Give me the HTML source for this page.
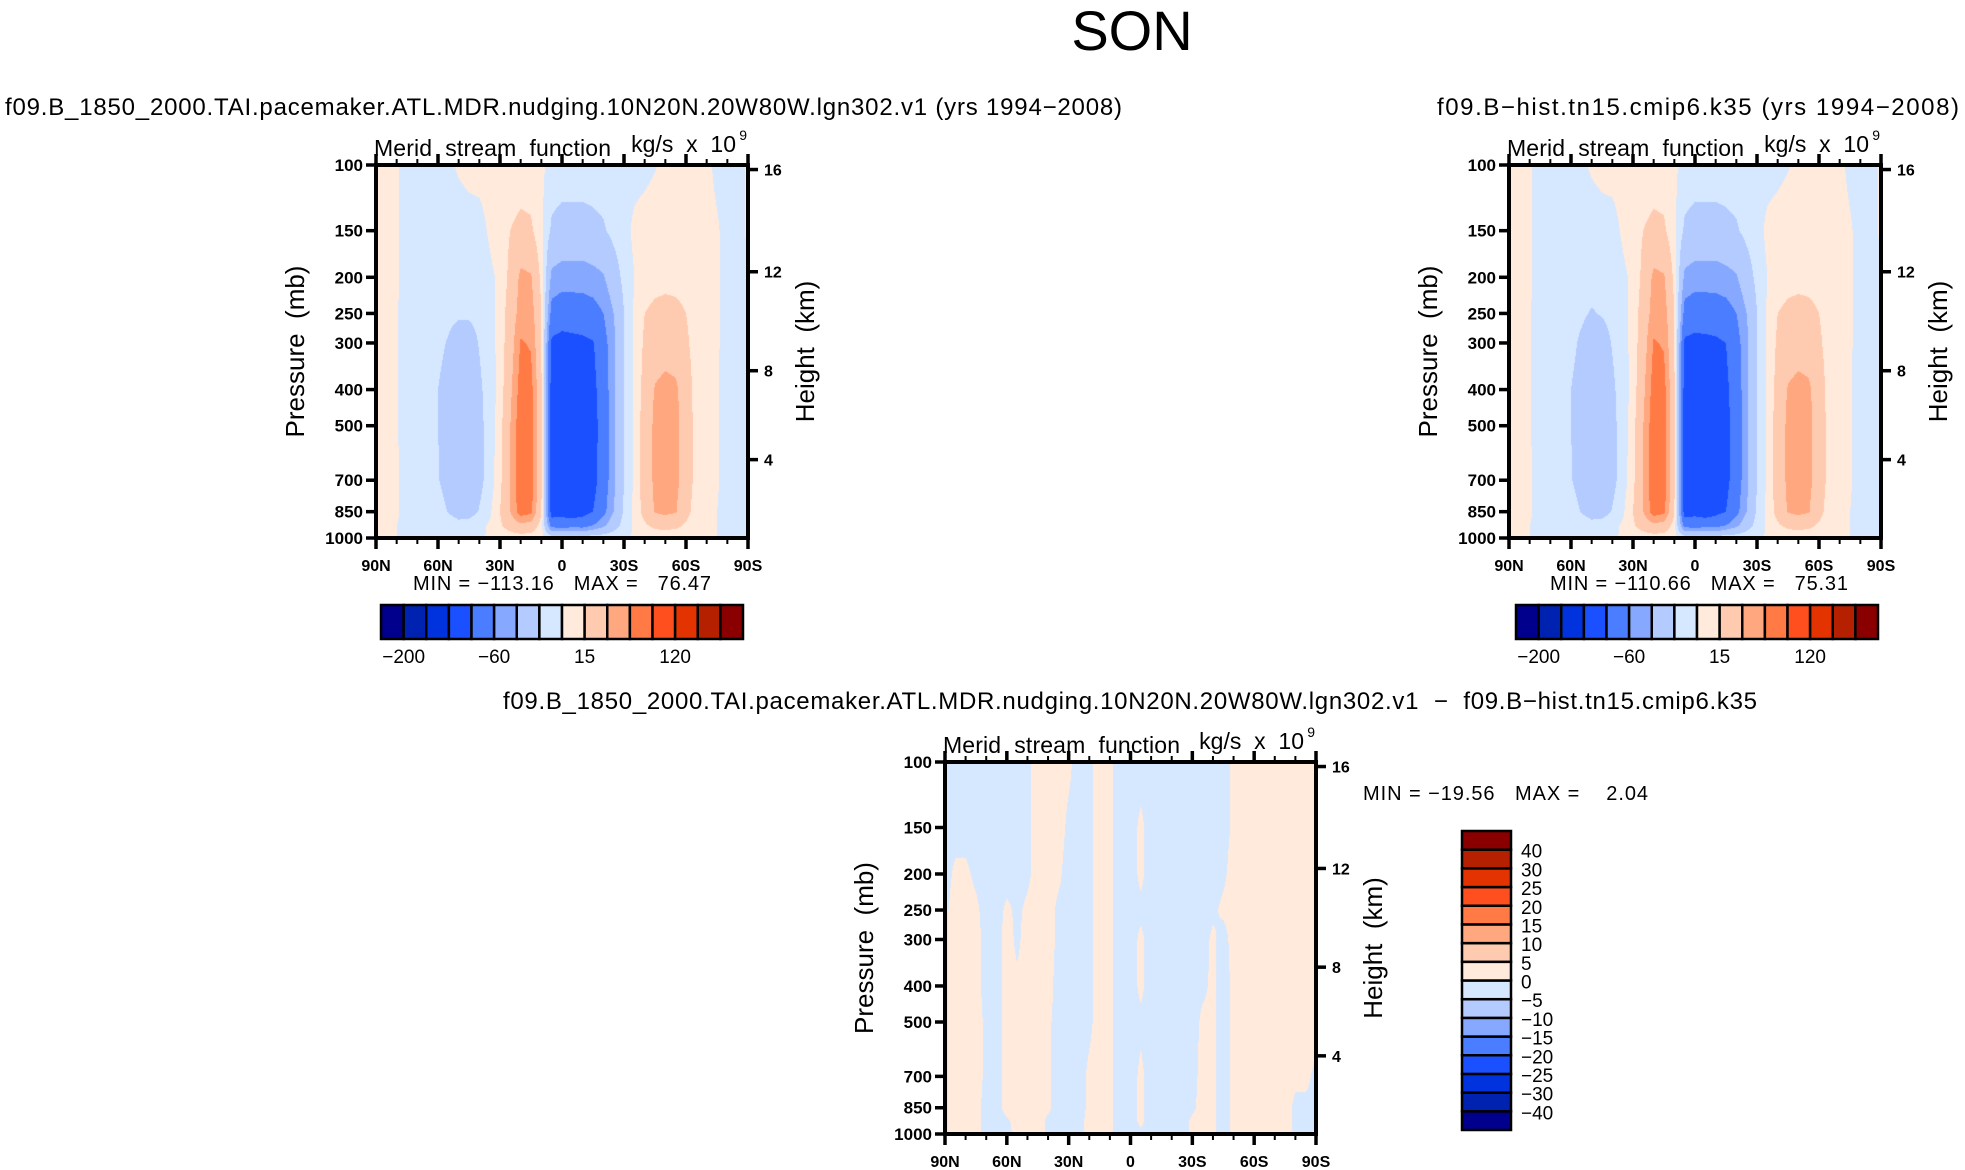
<!DOCTYPE html>
<html><head><meta charset="utf-8"><style>
html,body{margin:0;padding:0;background:#fff;}
#wrap{position:relative;width:1965px;height:1170px;overflow:hidden;background:#fff;font-family:"Liberation Sans",sans-serif;}
canvas{position:absolute;}
#ov{position:absolute;left:0;top:0;}
text{white-space:pre;}
</style></head><body>
<div id="wrap">
<canvas id="c1"></canvas>
<canvas id="c2"></canvas>
<canvas id="c3"></canvas>
<svg id="ov" width="1965" height="1170" xmlns="http://www.w3.org/2000/svg" xml:space="preserve"></svg>
</div>
<script>
// ---------- DATA ----------
const lats = [90,85,80,75,70,65,60,55,50,45,40,35,30,25,20,15,10,5,0,-5,-10,-15,-20,-25,-30,-35,-40,-45,-50,-55,-60,-65,-70,-75,-80,-85,-90];
const plevs = [100,150,200,250,300,400,500,700,850,925,1000];
const levels12 = [-200,-160,-120,-90,-60,-40,-15,0,15,40,60,90,120,160,200];
const levels3 = [-40,-30,-25,-20,-15,-10,-5,0,5,10,15,20,25,30,40];
const cbLabels12 = ["\u2212200","\u221260","15","120"];
const cbLabels3 = ["\u221240","\u221230","\u221225","\u221220","\u221215","\u221210","\u22125","0","5","10","15","20","25","30","40"];
// experiment field, rows = plevs, cols = lats
const field1 = [
[2,2,1,-3,-5,-5,-5,-3,2,5,5,5,5,5,5,5,3,-5,-6,-6,-6,-6,-6,-6,-5,-5,-4,-1,3,4,4,3,2,-2,-3,-2,1],
[2,2,1,-4,-6,-7,-8,-8,-8,-7,-5,2,8,15,20,18,3,-18,-22,-22,-22,-20,-17,-10,-5,3,6,8,8,7,5,4,3,1,-3,-3,1],
[2,2,1,-4,-7,-8,-9,-10,-10,-10,-8,-3,3,20,45,42,10,-45,-50,-50,-50,-47,-42,-25,-10,0,5,8,9,9,8,6,3,1,-3,-4,1],
[2,2,1,-5,-8,-10,-11,-12,-13,-13,-11,-6,5,25,50,50,15,-70,-75,-74,-73,-70,-60,-40,-15,2,15,20,22,20,15,8,3,1,-3,-4,1],
[2,2,1,-5,-8,-10,-12,-16,-22,-22,-14,-6,5,28,62,58,15,-95,-100,-98,-96,-92,-70,-45,-15,2,18,25,28,25,18,8,3,1,-3,-4,1],
[2,2,1,-5,-9,-12,-15,-20,-28,-28,-18,-8,5,35,70,68,18,-105,-110,-110,-105,-98,-75,-45,-15,2,22,42,48,45,25,8,3,1,-4,-5,1],
[2,2,1,-5,-9,-12,-15,-22,-30,-30,-20,-8,8,40,75,72,18,-108,-112,-112,-108,-100,-78,-45,-15,2,25,45,50,46,28,8,3,1,-4,-5,1],
[2,2,1,-4,-8,-11,-14,-22,-30,-30,-20,-8,10,42,76,72,20,-110,-113,-112,-108,-100,-75,-45,-15,3,25,45,50,46,28,8,3,1,-4,-5,1],
[1,1,1,-3,-5,-6,-8,-16,-22,-22,-14,-3,15,40,72,65,15,-105,-100,-108,-100,-90,-68,-40,-12,3,22,42,46,42,22,6,2,0,-3,-4,0],
[1,1,0,-2,-3,-3,-4,-6,-10,-8,-4,2,12,25,35,30,8,-70,-75,-70,-72,-60,-45,-25,-8,2,12,20,22,20,12,3,1,0,-2,-2,0],
[0,0,0,0,0,0,0,-1,-2,-2,-1,1,3,4,5,5,2,-3,-3,-3,-3,-3,-3,-2,-1,1,2,3,3,3,2,1,0,0,0,0,0]
];
// control field
const field2 = [
[2,2,1,-3,-5,-5,-5,-3,2,5,5,5,5,5,5,5,3,-5,-6,-6,-6,-6,-6,-6,-5,-5,-4,-1,3,4,4,3,2,-2,-3,-2,1],
[2,2,1,-4,-6,-7,-8,-8,-8,-7,-5,2,8,15,20,18,3,-18,-22,-22,-22,-20,-17,-10,-5,3,6,8,8,7,5,4,3,1,-3,-3,1],
[2,2,1,-4,-7,-8,-9,-10,-10,-10,-8,-3,3,20,45,42,10,-45,-50,-50,-50,-47,-42,-25,-10,0,5,8,9,9,8,6,3,1,-3,-4,1],
[2,2,1,-5,-8,-10,-11,-13,-16,-14,-11,-6,5,25,50,50,15,-70,-75,-74,-73,-70,-60,-40,-15,2,15,20,22,20,15,8,3,1,-3,-4,1],
[2,2,1,-5,-8,-10,-12,-17,-22,-22,-14,-6,5,28,62,58,15,-95,-98,-97,-95,-90,-70,-45,-15,2,18,25,28,25,18,8,3,1,-3,-4,1],
[2,2,1,-5,-9,-12,-15,-20,-28,-28,-18,-8,5,35,70,68,18,-104,-108,-108,-104,-96,-75,-45,-15,2,22,42,48,45,25,8,3,1,-4,-5,1],
[2,2,1,-5,-9,-12,-15,-22,-30,-30,-20,-8,8,40,74,72,18,-106,-110,-110,-106,-98,-78,-45,-15,2,25,45,50,46,28,8,3,1,-4,-5,1],
[2,2,1,-4,-8,-11,-14,-22,-30,-30,-20,-8,10,42,75,72,20,-108,-110,-110,-106,-98,-75,-45,-15,3,25,45,50,46,28,8,3,1,-4,-5,1],
[1,1,1,-3,-5,-6,-8,-16,-22,-22,-14,-3,15,40,72,65,15,-104,-98,-106,-98,-90,-68,-40,-12,3,22,42,46,42,22,6,2,0,-3,-4,0],
[1,1,0,-2,-3,-3,-4,-6,-10,-8,-4,2,12,25,35,30,8,-70,-74,-70,-70,-60,-45,-25,-8,2,12,20,22,20,12,3,1,0,-2,-2,0],
[0,0,0,0,0,0,0,-1,-2,-2,-1,1,3,4,5,5,2,-3,-3,-3,-3,-3,-3,-2,-1,1,2,3,3,3,2,1,0,0,0,0,0]
];
// difference field, rows = plevs, cols = lats
const field3 = [
[-2,-2,-2,-2,-2,-1,-2,-2,-1,2,2,2,1,-2,-1,2,1,-2,-2,-2,-2,-2,-2,-2,-2,-2,-2,-2,1,2,2,2,2,2,2,2,2],
[-2,-2,-2,-2,-2,-2,-2,-2,-1,2,2,2,-1,-2,-1,2,1,-2,-2,1,-2,-2,-2,-2,-2,-2,-2,-2,1,2,2,2,2,2,2,2,2],
[-2,1,1,-1,-2,-2,-2,-2,-1,2,2,1,-2,-2,-1,2,1,-2,-2,1,-2,-2,-2,-2,-2,-2,-2,-1,2,2,2,2,2,2,2,2,2],
[-1,2,2,1,-2,-2,1,-1,1,2,2,-1,-2,-2,-1,2,1,-2,-2,-1,-2,-2,-2,-2,-2,-2,-1,1,2,2,2,2,2,2,2,2,2],
[-1,2,2,2,-2,-2,2,-1,2,2,2,-1,-2,-2,-1,2,1,-2,-2,1,-2,-2,-2,-2,-2,-2,1,-2,2,2,2,2,2,2,2,2,2],
[-1,2,2,2,-2,-2,2,1,2,2,2,-2,-2,-2,-1,2,1,-2,-2,1,-2,-2,-2,-2,-2,-1,1,-2,1,2,2,2,2,2,2,2,2],
[-1,2,2,2,-1,-2,2,2,2,2,1,-2,-2,-2,-1,2,1,-2,-2,-1,-2,-2,-2,-2,-2,1,1,-2,1,2,2,2,2,2,2,2,2],
[-1,2,2,2,-1,-2,2,2,2,2,1,-2,-2,-2,1,2,1,-2,-2,1,-2,-2,-2,-2,-2,2,1,-2,1,2,2,2,2,2,1,1,-1],
[-1,2,2,2,-2,-2,2,2,2,2,1,-2,-2,-2,1,2,1,-2,-2,1,-2,-2,-2,-2,-1,2,1,-2,1,2,2,2,2,2,-1,-1,-1],
[-1,2,2,2,-2,-2,-1,2,2,2,-1,-2,-2,-2,2,2,1,-2,-2,1,-2,-2,-2,-2,1,2,1,-2,1,2,2,2,2,2,-1,-1,-1],
[-1,2,2,2,-2,-2,-2,2,2,2,-1,-2,-2,-2,2,2,1,-2,-2,-1,-2,-2,-2,-2,1,2,1,-2,1,2,2,2,2,2,-1,-1,1]
];
const colors = ["#00008c","#0022b0","#0033dd","#1a50ff","#4a7dff","#86a8ff","#b3cbff","#d6e8ff","#ffeadb","#ffcbb0","#ffa880","#ff7a45","#ff4f1f","#e33300","#b52000","#8a0000"];
const xTickLabels = ["90N","60N","30N","0","30S","60S","90S"];
const xTickLats = [90,60,30,0,-30,-60,-90];
const pTickVals = [100,150,200,250,300,400,500,700,850,1000];
const hTickLabels = ["16","12","8","4"];
const hTickVals = [16,12,8,4];

// ---------- GEOMETRY ----------
const P1={x:376,y:165,w:372,h:373}, P2={x:1509,y:165,w:372,h:373}, P3={x:945,y:762,w:371,h:372};
const NS="http://www.w3.org/2000/svg";
const svg=document.getElementById('ov');
function el(tag,attrs,parent){const e=document.createElementNS(NS,tag);for(const k in attrs)e.setAttribute(k,attrs[k]);(parent||svg).appendChild(e);return e;}
function txt(s,x,y,size,anchor,weight,parent){const t=el('text',{x:x,y:y,'font-size':size,'text-anchor':anchor||'start','font-weight':weight||'normal','font-family':'Liberation Sans, sans-serif',fill:'#000'},parent);t.textContent=s;return t;}
const lp0=Math.log10(100), lp1=Math.log10(1000);
function yOfP(P,p){return P.y+(Math.log10(p)-lp0)/(lp1-lp0)*P.h;}
function xOfLat(P,lat){return P.x+(90-lat)/180*P.w;}
// standard atmosphere height (km) -> pressure (mb)
function pOfH(h){return h<=11?1013.25*Math.pow(1-h/44.33,5.255):226.3*Math.exp(-(h-11)/6.34);}
const lplev=plevs.map(p=>Math.log10(p));
function sample(F,lat,p){
  const fi=(90-lat)/5; let i=Math.floor(fi); if(i>=lats.length-1)i=lats.length-2; if(i<0)i=0; const tx=fi-i;
  const l=Math.log10(p); let j=0; while(j<plevs.length-2&&l>lplev[j+1])j++;
  let ty=(l-lplev[j])/(lplev[j+1]-lplev[j]); ty=Math.max(0,Math.min(1,ty));
  const a=F[j][i],b=F[j][i+1],c=F[j+1][i],d=F[j+1][i+1];
  return (a*(1-tx)+b*tx)*(1-ty)+(c*(1-tx)+d*tx)*ty;
}
function hex(h){return [parseInt(h.substr(1,2),16),parseInt(h.substr(3,2),16),parseInt(h.substr(5,2),16)];}
const rgb=colors.map(hex);
function drawField(id,P,F,levs){
  const c=document.getElementById(id); c.width=P.w; c.height=P.h; c.style.left=P.x+'px'; c.style.top=P.y+'px';
  const ctx=c.getContext('2d'); const img=ctx.createImageData(P.w,P.h);
  for(let y=0;y<P.h;y++){const p=Math.pow(10,lp0+(y+0.5)/P.h*(lp1-lp0));
    for(let x=0;x<P.w;x++){const lat=90-(x+0.5)/P.w*180;const v=sample(F,lat,p);
      let k=0; while(k<levs.length&&v>=levs[k])k++; const col=rgb[k]; const o=(y*P.w+x)*4;
      img.data[o]=col[0];img.data[o+1]=col[1];img.data[o+2]=col[2];img.data[o+3]=255;}}
  ctx.putImageData(img,0,0);
}
drawField('c1',P1,field1,levels12);
drawField('c2',P2,field2,levels12);
drawField('c3',P3,field3,levels3);

function axes(P,name){
  const g=el('g',{});
  
  
  for(let lat=90;lat>=-90;lat-=10){const x=xOfLat(P,lat);const maj=(lat%30===0);const L=maj?11:6;
    el('line',{x1:x,y1:P.y+P.h,x2:x,y2:P.y+P.h+L,stroke:'#000','stroke-width':maj?3.5:2},g);
    el('line',{x1:x,y1:P.y,x2:x,y2:P.y-L,stroke:'#000','stroke-width':maj?3.5:2},g);}
  xTickLats.forEach((lat,i)=>{const t=txt(xTickLabels[i],xOfLat(P,lat),P.y+P.h+33,16,'middle','bold',g);
    
    });
  pTickVals.forEach(p=>{const y=yOfP(P,p);el('line',{x1:P.x,y1:y,x2:P.x-10,y2:y,stroke:'#000','stroke-width':3.5},g);
    const t=txt(String(p),P.x-13,y+6,17,'end','bold',g);
    
    });
  hTickVals.forEach((h,i)=>{const y=yOfP(P,pOfH(h));el('line',{x1:P.x+P.w,y1:y,x2:P.x+P.w+10,y2:y,stroke:'#000','stroke-width':3.5},g);
    const t=txt(hTickLabels[i],P.x+P.w+16,y+6,16,'start','bold',g);
    
    });
  el('rect',{x:P.x,y:P.y,width:P.w,height:P.h,fill:'none',stroke:'#000','stroke-width':4},g);
  const yt=txt('Pressure  (mb)',0,0,26,'middle','normal',g);
  yt.setAttribute('transform','translate('+(P.x-72)+','+(P.y+P.h/2)+') rotate(-90)');
  
  const ht=txt('Height  (km)',0,0,26,'middle','normal',g);
  ht.setAttribute('transform','translate('+(P.x+P.w+66)+','+(P.y+P.h/2)+') rotate(-90)');
  
  const lt=txt('Merid  stream  function',P.x-2,P.y-9,23,'start','normal',g);
  lt.setAttribute('textLength','237');
  
  const rt=txt('kg/s  x  10',P.x+P.w-12,P.y-13,23,'end','normal',g);
  
  txt('9',P.x+P.w-1,P.y-25,14,'end','normal',g);
}
axes(P1,'experiment');axes(P2,'control');axes(P3,'difference');

function hbar(x0,y0,w,h,labels,name){
  const g=el('g',{});
  
  
  const bw=w/colors.length;
  colors.forEach((c,i)=>{el('rect',{x:x0+i*bw,y:y0,width:bw,height:h,fill:c,stroke:'#000','stroke-width':2.5},g);});
  labels.forEach((s,i)=>{txt(s,x0+(1+i*4)*bw,y0+h+24,19,'middle','normal',g);});
}
hbar(381,605,362,34,cbLabels12,'colorbar-experiment');
hbar(1516,605,362,34,cbLabels12,'colorbar-control');
(function(){const g=el('g',{});
  
  
  const x0=1462,y0=831,w=49,h=299,bh=h/16;
  colors.forEach((c,i)=>{el('rect',{x:x0,y:y0+(15-i)*bh,width:w,height:bh,fill:c,stroke:'#000','stroke-width':2.5},g);});
  cbLabels3.forEach((s,i)=>{txt(s,x0+w+10,y0+(15-i)*bh+8,19,'start','normal',g);});
})();

let t;
t=txt('SON',1132,50,56,'middle','normal');  
t=txt('f09.B_1850_2000.TAI.pacemaker.ATL.MDR.nudging.10N20N.20W80W.lgn302.v1 (yrs 1994\u22122008)',5,115,24,'start','normal');
t.setAttribute('textLength','1117');  
t=txt('f09.B\u2212hist.tn15.cmip6.k35 (yrs 1994\u22122008)',1437,115,24,'start','normal');
t.setAttribute('textLength','522');  
t=txt('f09.B_1850_2000.TAI.pacemaker.ATL.MDR.nudging.10N20N.20W80W.lgn302.v1  \u2212  f09.B\u2212hist.tn15.cmip6.k35',503,709,24,'start','normal');
t.setAttribute('textLength','1254');  
t=txt('MIN = \u2212113.16   MAX =   76.47',413,590,20,'start','normal');
t.setAttribute('textLength','298');  
t=txt('MIN = \u2212110.66   MAX =   75.31',1550,590,20,'start','normal');
t.setAttribute('textLength','298');  
t=txt('MIN = \u221219.56   MAX =    2.04',1363,800,20,'start','normal');
t.setAttribute('textLength','285');  
</script>
</body></html>
